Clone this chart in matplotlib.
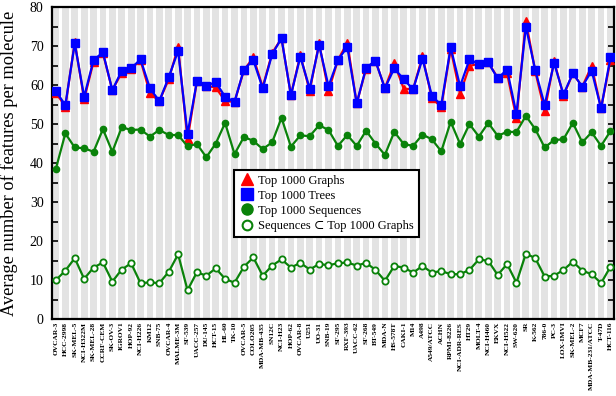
import matplotlib
matplotlib.use("Agg")
import matplotlib.pyplot as plt
from matplotlib.lines import Line2D

cell_lines = [
	'OVCAR-3', 'HCC-2998', 'SK-MEL-5', 'NCI-H322M', 'SK-MEL-28', 'CCRF-CEM',
	'SK-OV-3', 'IGROV1', 'HOP-92', 'NCI-H226', 'KM12', 'SNB-75',
	'OVCAR-4', 'MALME-3M', 'SF-539', 'UACC-257', 'DU-145', 'HCT-15',
	'HL-60', 'TK-10', 'OVCAR-5', 'COLO205', 'MDA-MB-435', 'SN12C',
	'NCI-H23', 'HOP-62', 'OVCAR-8', 'U251', 'UO-31', 'SNB-19',
	'SF-295', 'RXF-393', 'UACC-62', 'SF-268', 'BT-549', 'MDA-N',
	'HS-578T', 'CAKI-1', 'M14', 'A498', 'A549/ATCC', 'ACHN',
	'RPMI-8226', 'NCI-ADR-RES', 'HT29', 'MOLT-4', 'NCI-H460', 'EKVX',
	'NCI-H522', 'SW-620', 'SR', 'K-562', '786-0', 'PC-3',
	'LOX-IMVI', 'SK-MEL-2', 'MCF7', 'MDA-MB-231/ATCC', 'T-47D', 'HCT-116'
]

top_graphs = [
	58.0, 54.5, 71.0, 56.4, 66.0, 68.2, 58.7, 63.2, 64.2, 66.4,
	57.9, 55.9, 61.5, 69.8, 46.1, 61.0, 59.8, 59.4, 55.9, 55.7,
	63.8, 67.1, 59.5, 68.2, 72.0, 57.4, 67.7, 58.5, 70.7, 58.5,
	66.4, 70.9, 55.3, 64.2, 66.2, 59.2, 65.6, 59.1, 58.9, 67.4,
	56.6, 54.4, 69.3, 57.7, 64.9, 65.5, 65.8, 61.9, 63.0, 51.5,
	76.5, 63.5, 53.3, 66.2, 57.3, 63.0, 59.6, 64.9, 54.0, 66.4
]

top_trees = [
	58.5, 54.8, 70.7, 57.0, 66.4, 68.4, 58.7, 63.7, 64.3, 66.6,
	59.2, 55.9, 62.0, 68.8, 47.4, 61.0, 59.8, 60.8, 57.0, 55.7,
	64.0, 66.4, 59.2, 67.9, 72.0, 57.4, 67.3, 59.1, 70.3, 59.7,
	66.4, 69.8, 55.3, 64.5, 66.2, 59.2, 64.3, 61.5, 58.9, 66.8,
	57.2, 54.9, 69.7, 59.7, 66.6, 65.4, 65.8, 61.7, 64.0, 52.6,
	75.0, 63.8, 54.9, 65.7, 57.6, 63.0, 59.6, 63.7, 54.0, 67.1
]

top_sequences = [
	38.6, 47.6, 44.0, 43.8, 42.9, 48.7, 42.9, 49.2, 48.5, 48.6,
	46.8, 48.5, 47.2, 47.2, 44.3, 44.9, 41.5, 45.0, 50.3, 42.3,
	46.7, 45.7, 43.6, 45.3, 51.6, 44.2, 47.1, 46.9, 49.7, 48.5,
	44.4, 47.2, 44.4, 48.3, 45.0, 42.1, 48.0, 44.9, 44.4, 47.3,
	46.1, 43.0, 50.6, 44.9, 50.0, 46.8, 50.3, 47.0, 48.0, 48.0,
	52.1, 48.7, 44.0, 45.9, 46.1, 50.3, 45.3, 47.9, 44.4, 48.2
]

seq_in_graphs = [
	10.0, 12.4, 15.6, 10.3, 13.2, 14.5, 9.6, 12.7, 14.3, 9.2,
	9.4, 9.2, 12.1, 16.6, 7.4, 12.0, 11.1, 13.0, 10.3, 9.3,
	13.4, 15.8, 11.1, 13.7, 15.3, 13.2, 14.4, 12.7, 14.1, 13.8,
	14.3, 14.5, 13.7, 14.4, 12.6, 9.8, 13.6, 13.2, 11.9, 13.6,
	11.9, 12.3, 11.5, 11.5, 12.6, 15.3, 14.9, 11.3, 14.1, 9.3,
	16.8, 15.6, 10.9, 11.1, 12.6, 14.7, 12.4, 11.5, 9.2, 13.4
]

GREEN = '#0a820a'


def plot_res(outname="out.png"):
	plt.rcParams['font.family'] = ['Liberation Serif', 'DejaVu Serif']

	fig = plt.figure(figsize=(6.16, 3.96), dpi=100)
	ax = fig.add_axes([0.0844, 0.1944, 0.9124, 0.7876])

	x = list(range(len(cell_lines)))

	# gray stripe behind every cell line
	for i in x:
		ax.axvspan(i - 0.36, i + 0.36, color='#e3e3e3', lw=0, zorder=0)

	ax.plot(x, top_graphs, color='red', lw=1.6, marker='^', ms=6, zorder=3)
	ax.plot(x, top_trees, color='blue', lw=1.6, marker='s', ms=5.5, zorder=4)
	ax.plot(x, top_sequences, color=GREEN, lw=1.6, marker='o', ms=4.5, zorder=3)
	ax.plot(x, seq_in_graphs, color=GREEN, lw=1.6, marker='o', ms=4.5,
	        mfc='white', mew=1.3, zorder=3)

	ax.set_xlim(-0.42, len(cell_lines) - 0.62)
	ax.set_ylim(0, 80)
	ax.set_yticks(range(0, 81, 10))
	ax.set_yticks(range(0, 81, 5), minor=True)
	ax.set_xticks(x)
	ax.set_xticklabels(cell_lines, rotation=90, fontsize=5.3, fontweight='bold')
	ax.tick_params(axis='x', length=0, pad=2)
	ax.tick_params(axis='y', which='both', direction='in', left=True, right=True,
	               length=4, width=1.2, labelsize=10, pad=6)
	ax.set_ylabel("Average number of features per molecule", fontsize=13.2)
	ax.yaxis.set_label_coords(-0.061, 0.5)
	for sp in ax.spines.values():
		sp.set_linewidth(1.6)

	# legend shows only the markers
	handles = [
		Line2D([], [], ls='none', marker='^', color='red', ms=8),
		Line2D([], [], ls='none', marker='s', color='blue', ms=8),
		Line2D([], [], ls='none', marker='o', color=GREEN, ms=8),
		Line2D([], [], ls='none', marker='o', color=GREEN, mfc='white', mew=1.5, ms=7),
	]
	labels = ["Top 1000 Graphs", "Top 1000 Trees", "Top 1000 Sequences",
	          "Sequences \u2282 Top 1000 Graphs"]
	leg = ax.legend(handles, labels, loc='lower left', bbox_to_anchor=(0.324, 0.263),
	                borderaxespad=0, fontsize=9, fancybox=False, framealpha=1,
	                edgecolor='black', handletextpad=0.3, labelspacing=0.25,
	                borderpad=0.4, handlelength=1.2)
	leg.get_frame().set_linewidth(1.5)
	leg.set_zorder(5)

	plt.savefig(outname, dpi=100)


def main():
	plot_res()


if __name__ == "__main__":
	main()
